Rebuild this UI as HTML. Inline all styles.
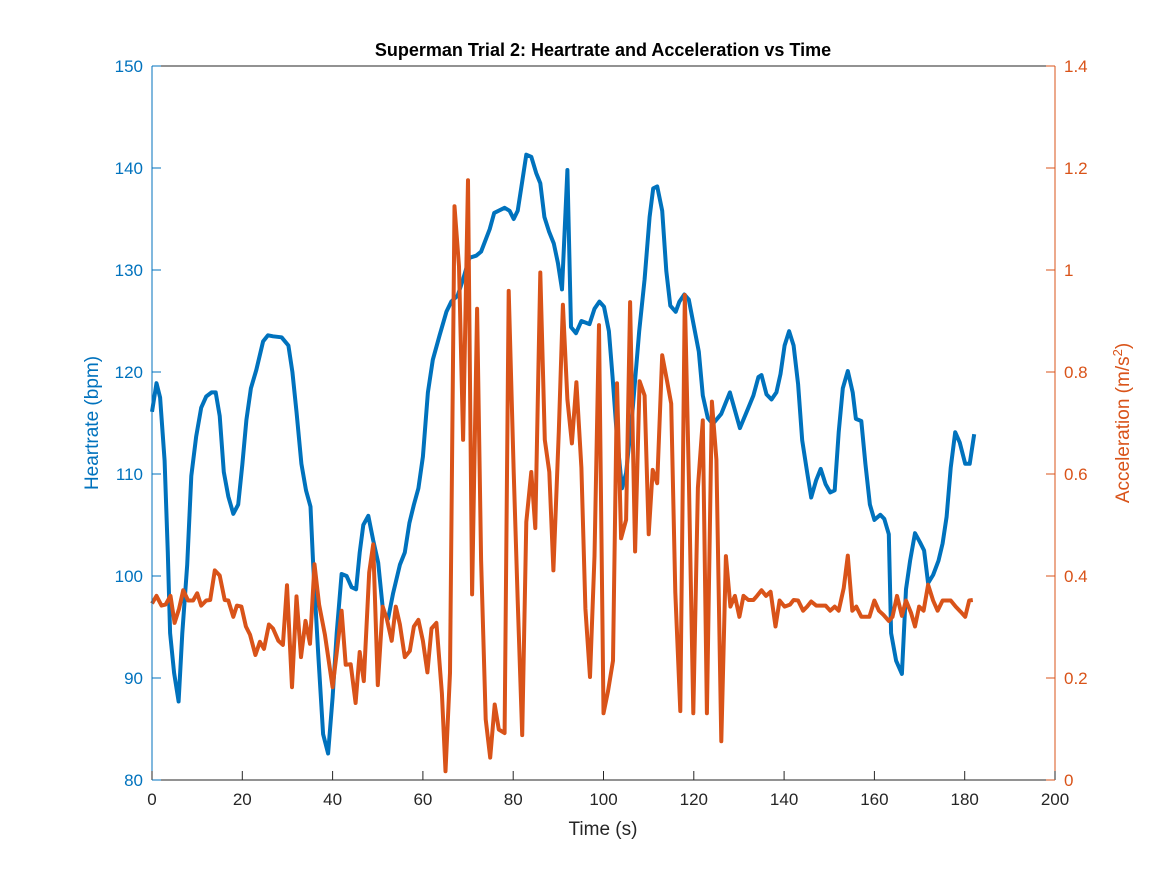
<!DOCTYPE html>
<html><head><meta charset="utf-8"><style>
body{margin:0;background:#fff;}
svg text{font-family:"Liberation Sans",sans-serif;}
</style></head><body>
<svg id="chart" width="1167" height="875" xmlns="http://www.w3.org/2000/svg">
<rect width="1167" height="875" fill="#fff"/>
<g id="grid"></g>
<g id="marks"></g>
<g id="axes"></g>
</svg>
<script>
const hrTime=[0,1,1.8,2.8,3.5,4,4.9,5.9,6.7,7.8,8.7,9.8,10.9,12,13.2,14.1,15,15.9,16.9,18,19.1,20,20.9,21.9,23.1,24.6,25.7,26.8,28.7,30.2,31.1,32,33.1,34.1,35.1,35.7,36.8,37.9,39,40,40.9,42,43.1,44.2,45.2,46,46.8,47.9,49,50.1,51.2,52.3,53.4,54.9,56,57,58,59,60,61.1,62.2,63.7,65.2,66.3,67.7,68.9,70.3,71.8,72.9,74.8,75.8,78.1,79.2,80.1,81,81.8,82.9,84,85.1,86,86.9,87.9,89,89.9,90.8,92,92.8,93.9,95.1,96.9,98,99.1,100.1,101.2,102,102.9,104.1,105,106.5,107.9,109.1,110.2,111,111.9,113,113.9,114.8,116,116.8,117.9,118.9,119.9,121.1,122,123.1,124.2,126.1,128,130.2,132.1,133.2,134.3,135,136.1,137.2,138.3,139.2,140.1,141.1,142.1,143.1,144,145.1,146,147.1,148.1,149.2,150.2,151.2,152.1,153,154.1,155.2,155.9,157.1,158,159,160,161.3,162.2,163.2,163.7,164.8,166.1,167,167.9,169,170.1,171,171.9,173,174.2,175.1,176,176.9,177.9,178.9,180.1,181.1,182.1];
const hrValues=[116.1,118.9,117.5,111.3,102.3,94.4,90.5,87.7,94.4,101.1,109.8,113.7,116.5,117.6,118,118,115.7,110.2,107.8,106.1,107,110.9,115.3,118.4,120.2,123,123.6,123.5,123.4,122.6,120,116.1,111,108.4,106.8,101.1,92.4,84.5,82.6,88.1,94.4,100.2,100,98.9,98.7,102.3,105,105.9,103.5,101.3,96.4,95.8,98.3,101.1,102.3,105.2,107,108.6,111.7,118,121.2,123.6,125.9,126.9,127.5,129.1,131.2,131.4,131.8,134,135.6,136.1,135.8,135,135.8,138.1,141.3,141.1,139.5,138.5,135.2,133.8,132.6,130.7,128.1,139.8,124.4,123.8,125,124.7,126.2,126.9,126.4,124,119.6,114.1,108.6,110.1,116.5,124,129.1,135.2,138,138.2,135.8,129.9,126.5,125.9,126.9,127.6,127.1,124.8,122,117.7,115.5,114.9,115.9,118,114.5,116.5,117.7,119.5,119.7,117.8,117.3,118,119.8,122.6,124,122.6,118.8,113.3,110.2,107.7,109.4,110.5,109,108.2,108.4,114.1,118.4,120.1,118,115.4,115.2,111,107,105.5,106,105.6,104.1,94.4,91.7,90.4,98.7,101.5,104.2,103.3,102.5,99.3,100.1,101.5,103.2,105.8,110.6,114.1,113.1,111,111,113.9];
const accTime=[0,1,2.1,3,4.1,5,6,6.9,8,9.1,10,10.9,12,12.9,13.9,15,16.1,16.9,18,18.8,19.8,20.8,21.7,22.9,23.9,24.8,25.9,26.8,28,29,29.9,31,32,33,34,35,36,37,38.3,40,40.9,42,42.9,44,45.1,46,46.9,48.1,49,50,51.1,52,53.1,54,54.9,56,57.1,58,59,60,61,61.9,63,64.2,65,66,67,68,68.9,70,70.9,72,72.9,73.9,74.9,75.9,76.8,78.1,79,80.1,81,82,82.9,84,84.9,86,87,88,88.9,90.1,91,92,93,94,95.1,96,97,98,99,100,101,102.1,103,103.9,105,105.9,107,108,109.1,110,110.9,111.9,113,114,115,115.9,117,118,118.9,119.9,120.9,122,122.9,124,125,126.1,127.1,128.1,129.1,130.1,131,132.1,133.2,134,135,136,137,138.1,139,140.1,141.3,142.1,143.1,144.2,145.1,146,147.1,149.2,150.2,151.2,152.1,153.2,154.1,155.1,156,157.1,158.9,160,161,162,163.2,164,165,166.1,167,168.1,169,169.9,170.9,171.9,173,174,175.1,176.9,178,179.1,180.1,181,181.8];
const accValues=[0.346,0.361,0.342,0.344,0.361,0.308,0.336,0.372,0.352,0.352,0.366,0.342,0.352,0.353,0.411,0.401,0.353,0.352,0.32,0.342,0.34,0.301,0.285,0.245,0.271,0.257,0.305,0.297,0.273,0.265,0.382,0.182,0.36,0.241,0.312,0.267,0.423,0.344,0.285,0.182,0.249,0.332,0.226,0.227,0.151,0.251,0.194,0.407,0.462,0.186,0.34,0.316,0.273,0.34,0.305,0.241,0.253,0.301,0.314,0.273,0.211,0.297,0.308,0.17,0.017,0.21,1.125,1.007,0.667,1.176,0.364,0.924,0.431,0.119,0.044,0.148,0.099,0.092,0.959,0.604,0.352,0.088,0.506,0.604,0.494,0.995,0.667,0.604,0.411,0.683,0.932,0.746,0.66,0.78,0.612,0.336,0.202,0.439,0.892,0.131,0.174,0.234,0.778,0.474,0.51,0.937,0.448,0.782,0.754,0.482,0.608,0.582,0.833,0.786,0.738,0.368,0.135,0.951,0.596,0.131,0.573,0.705,0.131,0.742,0.628,0.076,0.439,0.34,0.361,0.32,0.361,0.353,0.353,0.361,0.372,0.361,0.369,0.301,0.352,0.34,0.344,0.353,0.352,0.332,0.34,0.35,0.342,0.342,0.332,0.34,0.332,0.376,0.44,0.332,0.34,0.32,0.32,0.352,0.332,0.324,0.312,0.32,0.361,0.322,0.352,0.328,0.301,0.34,0.332,0.383,0.352,0.332,0.352,0.352,0.34,0.33,0.32,0.352,0.353];
const xTicks=[0,20,40,60,80,100,120,140,160,180,200];
const hrTicks=[80,90,100,110,120,130,140,150];
const accTicks=[0,0.2,0.4,0.6,0.8,1,1.2,1.4];
const accTickLabels=["0","0.2","0.4","0.6","0.8","1","1.2","1.4"];

const L=152,R=1055,T=66,B=780;
const BLUE="#0072BD",ORANGE="#D95319";
const xS=v=>L+(v-0)/200*(R-L);
const yL=v=>B-(v-80)/70*(B-T);
const yR=v=>B-(v-0)/1.4*(B-T);
const NS="http://www.w3.org/2000/svg";
function mk(tag,attrs,parent,text){const e=document.createElementNS(NS,tag);for(const k in attrs)e.setAttribute(k,attrs[k]);if(text!==undefined)e.textContent=text;parent.appendChild(e);return e;}
const marks=document.getElementById('marks'),axes=document.getElementById('axes');

let d=hrTime.map((t,i)=>(i?'L':'M')+xS(t).toFixed(1)+','+yL(hrValues[i]).toFixed(1)).join('');
const hr=mk('path',{d:d,fill:'none',stroke:BLUE,'stroke-width':4,'stroke-linejoin':'round'},marks);


d=accTime.map((t,i)=>(i?'L':'M')+xS(t).toFixed(1)+','+yR(accValues[i]).toFixed(1)).join('');
const ac=mk('path',{d:d,fill:'none',stroke:ORANGE,'stroke-width':4,'stroke-linejoin':'round'},marks);



// axes lines
let a=mk('line',{x1:L,y1:B,x2:R,y2:B,stroke:'#262626','stroke-width':1},axes);

a=mk('line',{x1:L,y1:T,x2:R,y2:T,stroke:'#262626','stroke-width':1},axes);

a=mk('line',{x1:L,y1:T,x2:L,y2:B,stroke:BLUE,'stroke-width':1},axes);

a=mk('line',{x1:R,y1:T,x2:R,y2:B,stroke:ORANGE,'stroke-width':1},axes);


xTicks.forEach(v=>{const x=xS(v);
 const t=mk('line',{x1:x,y1:B,x2:x,y2:B-9,stroke:'#262626'},axes);
 
 const l=mk('text',{x:x,y:B+25,'text-anchor':'middle','font-size':17,fill:'#262626'},axes,String(v));
 });
hrTicks.forEach(v=>{const y=yL(v);
 const t=mk('line',{x1:L,y1:y,x2:L+9,y2:y,stroke:BLUE},axes);
 
 const l=mk('text',{x:L-9,y:y+6,'text-anchor':'end','font-size':17,fill:BLUE},axes,String(v));
 });
accTicks.forEach((v,i)=>{const y=yR(v);
 const t=mk('line',{x1:R,y1:y,x2:R-9,y2:y,stroke:ORANGE},axes);
 
 const l=mk('text',{x:R+9,y:y+6,'text-anchor':'start','font-size':17,fill:ORANGE},axes,accTickLabels[i]);
 });
</script>
<svg style="position:absolute;left:0;top:0" width="1167" height="875" xmlns="http://www.w3.org/2000/svg">
<text x="603" y="56" text-anchor="middle" font-size="18" font-weight="bold" fill="#000" font-family="Liberation Sans, sans-serif">Superman Trial 2: Heartrate and Acceleration vs Time</text>
<text x="603" y="835" text-anchor="middle" font-size="19" fill="#262626" font-family="Liberation Sans, sans-serif">Time (s)</text>
<text transform="translate(98,423) rotate(-90)" text-anchor="middle" font-size="19" fill="#0072BD" font-family="Liberation Sans, sans-serif">Heartrate (bpm)</text>
<text transform="translate(1129,423) rotate(-90)" text-anchor="middle" font-size="19" fill="#D95319" font-family="Liberation Sans, sans-serif">Acceleration (m/s<tspan dy="-7" font-size="13">2</tspan><tspan dy="7">)</tspan></text>
</svg>
</body></html>
